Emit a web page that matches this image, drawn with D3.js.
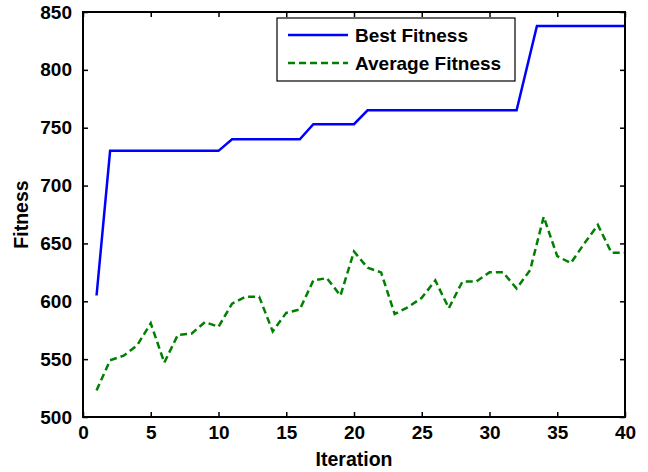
<!DOCTYPE html>
<html>
<head>
<meta charset="utf-8">
<script src="https://cdn.jsdelivr.net/npm/d3@7"></script>
<style>
  body { margin: 0; background: #fff; }
  text { font-family: "Liberation Sans", Arial, sans-serif; font-weight: bold; }
</style>
</head>
<body>
<script>
const [w, h] = [648, 472]
const margin = { top: 12, right: 23, bottom: 55, left: 83 }

// best fitness changes in steps, so only the corner points are kept
const best_iter = [1, 2, 10, 11, 16, 17, 20, 21, 32, 33.5, 40]
const best_fit = [605, 730, 730, 740, 740, 753, 753, 765, 765, 838, 838]

const avg_iter = d3.range(1, 41)
const avg_fit = [523, 549, 553, 562, 581, 547, 571, 572, 582, 578,
  598, 604, 604, 574, 590, 593, 618, 620, 605, 643,
  629, 625, 589, 595, 603, 618, 594, 617, 617, 625,
  625, 611, 627, 673, 639, 633, 650, 666, 642, 642]

const x_ticks = [0, 5, 10, 15, 20, 25, 30, 35, 40]
const y_ticks = [500, 550, 600, 650, 700, 750, 800, 850]
const series_names = ['Best Fitness', 'Average Fitness']

const svg = d3.select('body').append('svg')
  .attr('width', w)
  .attr('height', h)

const x = d3.scaleLinear().domain([0, 40]).range([margin.left, w - margin.right])
const y = d3.scaleLinear().domain([500, 850]).range([h - margin.bottom, margin.top])

const line = d3.line().x(d => x(d[0])).y(d => y(d[1]))

svg.append('path')
  .datum(d3.zip(avg_iter, avg_fit))
  .attr('fill', 'none')
  .attr('stroke', '#008000')
  .attr('stroke-width', 2.5)
  .attr('stroke-dasharray', '7,4')
  .attr('d', line)

svg.append('path')
  .datum(d3.zip(best_iter, best_fit))
  .attr('fill', 'none')
  .attr('stroke', '#0000ff')
  .attr('stroke-width', 2.5)
  .attr('d', line)

// axes with inward ticks on all four sides
const style_axis = (g) => {
  g.select('.domain').remove()
  g.selectAll('line').attr('stroke', '#000').attr('stroke-width', 1.5)
  g.selectAll('text').attr('font-size', 19).attr('fill', '#000')
}

svg.append('g')
  .attr('transform', `translate(0,${y(500)})`)
  .call(d3.axisBottom(x).tickValues(x_ticks).tickSizeInner(-5).tickSizeOuter(0).tickPadding(9))
  .call(style_axis)

svg.append('g')
  .attr('transform', `translate(0,${y(850)})`)
  .call(d3.axisTop(x).tickValues(x_ticks).tickSizeInner(-5).tickSizeOuter(0).tickFormat(''))
  .call(style_axis)

svg.append('g')
  .attr('transform', `translate(${x(0)},0)`)
  .call(d3.axisLeft(y).tickValues(y_ticks).tickSizeInner(-5).tickSizeOuter(0).tickPadding(11))
  .call(style_axis)

svg.append('g')
  .attr('transform', `translate(${x(40)},0)`)
  .call(d3.axisRight(y).tickValues(y_ticks).tickSizeInner(-5).tickSizeOuter(0).tickFormat(''))
  .call(style_axis)

svg.append('rect')
  .attr('x', x(0))
  .attr('y', y(850))
  .attr('width', x(40) - x(0))
  .attr('height', y(500) - y(850))
  .attr('fill', 'none')
  .attr('stroke', '#000')
  .attr('stroke-width', 2)

svg.append('text')
  .attr('x', (x(0) + x(40)) / 2)
  .attr('y', 466)
  .attr('text-anchor', 'middle')
  .attr('font-size', 19.5)
  .text('Iteration')

svg.append('text')
  .attr('transform', `translate(28,${(y(500) + y(850)) / 2}) rotate(-90)`)
  .attr('text-anchor', 'middle')
  .attr('font-size', 19.5)
  .text('Fitness')

// legend
const legend = svg.append('g').attr('transform', 'translate(277,18)')
legend.append('rect')
  .attr('width', 238)
  .attr('height', 63)
  .attr('fill', '#fff')
  .attr('stroke', '#000')
  .attr('stroke-width', 1.2)

const legend_style = [
  { color: '#0000ff', dash: null },
  { color: '#008000', dash: '7,4' }
]

const legend_item = legend.selectAll('g.item')
  .data(series_names)
  .enter()
  .append('g')
  .attr('class', 'item')
  .attr('transform', (d, i) => `translate(0,${17 + i * 28})`)

legend_item.append('line')
  .attr('x1', 11)
  .attr('x2', 71)
  .attr('stroke', (d, i) => legend_style[i].color)
  .attr('stroke-width', 2.5)
  .attr('stroke-dasharray', (d, i) => legend_style[i].dash)

legend_item.append('text')
  .attr('x', 78)
  .attr('y', 7)
  .attr('font-size', 19)
  .text(d => d)
</script>
</body>
</html>
